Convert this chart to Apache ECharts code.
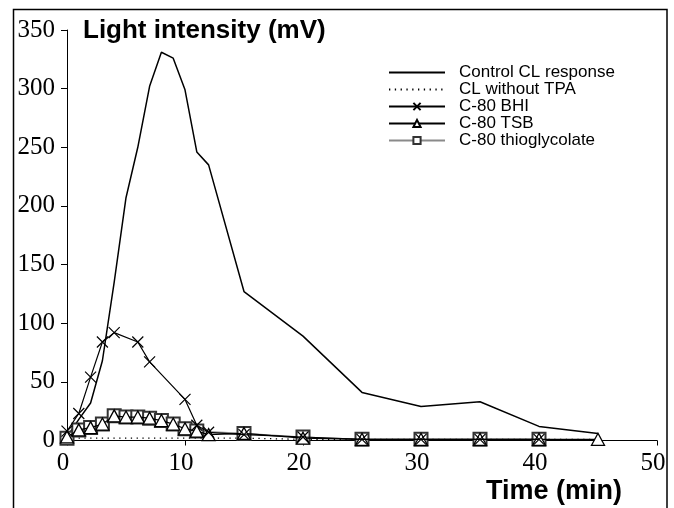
<!DOCTYPE html>
<html>
<head>
<meta charset="utf-8">
<script src="https://cdn.jsdelivr.net/npm/echarts@6/dist/echarts.min.js"></script>
<style>html,body{margin:0;padding:0;background:#fff}#c{width:674px;height:508px}</style>
</head>
<body>
<div id="c"></div>
<script>
const xTicks = [0, 10, 20, 30, 40, 50];
const yTicks = [0, 50, 100, 150, 200, 250, 300, 350];

const timesControl = [0, 1, 2, 3, 4, 5, 6, 7, 8, 9, 10, 11, 12, 15, 20, 25, 30, 35, 40, 45];
const controlCL = [3, 18, 32, 68, 135, 207, 250, 302, 331, 326, 299, 246, 235, 127, 89, 41, 29, 33, 12, 6];

const timesNoTPA = [0, 1, 2, 3, 4, 5, 6, 7, 8, 9, 10, 11, 12, 15, 20, 25, 30, 35, 40, 45];
const noTPA = [2, 2, 2, 2, 2, 2, 2, 2, 2, 2, 2, 2, 2, 2, 1, 1, 1, 1, 1, 1];

const timesBHI = [0, 1, 2, 3, 4, 6, 7, 10, 11, 12, 15, 20, 25, 30, 35, 40];
const bhi = [8, 23, 54, 84, 92, 84, 67, 35, 13, 7, 5, 3, 1, 1, 1, 1];

const timesTSB = [0, 1, 2, 3, 4, 5, 6, 7, 8, 9, 10, 11, 12, 15, 20, 25, 30, 35, 40, 45];
const tsb = [3, 9, 11, 14, 21, 20, 20, 19, 17, 14, 10, 8, 5, 6, 2, 1, 1, 1, 1, 1];

const timesThio = [0, 1, 2, 3, 4, 5, 6, 7, 8, 9, 10, 11, 15, 20, 25, 30, 35, 40];
const thio = [2, 9, 11, 14, 21, 20, 20, 19, 17, 14, 10, 8, 6, 3, 1, 1, 1, 1];

const names = ['Control CL response', 'CL without TPA', 'C-80 BHI', 'C-80 TSB', 'C-80 thioglycolate'];

function pairs(xs, ys) { return xs.map((x, i) => [x, ys[i]]); }

const chart = echarts.init(document.getElementById('c'), null, {renderer: 'canvas'});
const serif = 'Liberation Serif';
const sans = 'Liberation Sans';
const xPath = 'path://M0,0L10,10M10,0L0,10';
const hidden = {color: 'rgba(0,0,0,0)', borderWidth: 0};

chart.setOption({
  animation: false,
  backgroundColor: '#fff',
  grid: {left: 67, right: 17, top: 30, bottom: 67.5},
  xAxis: {
    type: 'value', min: xTicks[0], max: xTicks[xTicks.length - 1], interval: 10,
    splitLine: {show: false},
    axisLine: {onZero: false, lineStyle: {color: '#000', width: 1}},
    axisTick: {inside: false, length: 5, lineStyle: {color: '#000'}},
    axisLabel: {color: '#000', fontFamily: serif, fontSize: 25, margin: 10, padding: [0, 8, 0, 0]}
  },
  yAxis: {
    type: 'value', min: yTicks[0], max: yTicks[yTicks.length - 1], interval: 50,
    splitLine: {show: false},
    axisLine: {show: true, lineStyle: {color: '#000', width: 1}},
    axisTick: {show: true, inside: false, length: 6, lineStyle: {color: '#000'}},
    axisLabel: {color: '#000', fontFamily: serif, fontSize: 25, margin: 12}
  },
  legend: {
    orient: 'vertical', left: 388, top: 64, padding: 0,
    itemWidth: 56, itemHeight: 9, itemGap: 0,
    data: names,
    textStyle: {fontFamily: sans, fontSize: 17, color: '#000', lineHeight: 15, padding: [0, 0, 0, 9]}
  },
  graphic: [
    {type: 'rect', shape: {x: 13.5, y: 9.5, width: 653.5, height: 600}, style: {fill: 'none', stroke: '#000', lineWidth: 1.5}, silent: true, z: 0},
    {type: 'text', left: 83, top: 18, style: {text: 'Light intensity (mV)', font: 'bold 26px "Liberation Sans"', fill: '#000'}},
    {type: 'text', left: 486, top: 478, style: {text: 'Time (min)', font: 'bold 27px "Liberation Sans"', fill: '#000'}}
  ],
  series: [
    {
      name: names[0], type: 'line', data: pairs(timesControl, controlCL), showSymbol: false, symbol: 'circle',
      lineStyle: {color: '#000', width: 1.5}, itemStyle: hidden, z: 2
    },
    {
      name: names[1], type: 'line', data: pairs(timesNoTPA, noTPA), showSymbol: false, symbol: 'circle',
      lineStyle: {color: '#000', width: 1.3, type: [1.3, 4.5]}, itemStyle: hidden, z: 2
    },
    {
      name: names[2], type: 'line', data: pairs(timesBHI, bhi), symbol: xPath, symbolSize: 11,
      lineStyle: {color: '#000', width: 1.2}, itemStyle: {color: '#000', borderColor: '#000', borderWidth: 1.2}, z: 5
    },
    {
      name: names[3], type: 'line', data: pairs(timesTSB, tsb), symbol: 'triangle', symbolSize: [13, 12],
      lineStyle: {color: '#000', width: 1.2}, itemStyle: {color: '#fff', borderColor: '#000', borderWidth: 1.3}, z: 4
    },
    {
      name: names[4], type: 'line', data: pairs(timesThio, thio), symbol: 'rect', symbolSize: 13,
      lineStyle: {color: '#8a8a8a', width: 1.2}, itemStyle: {color: '#fff', borderColor: '#333', borderWidth: 2}, z: 3
    }
  ]
});
</script>
</body>
</html>
